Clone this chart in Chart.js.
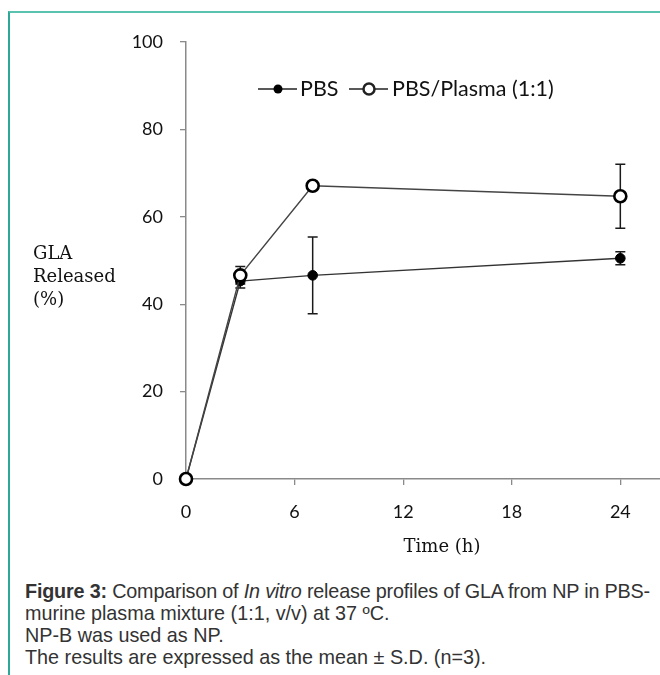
<!DOCTYPE html>
<html><head><meta charset="utf-8">
<script src="https://cdn.jsdelivr.net/npm/chart.js@4"></script>
<style>
html,body{margin:0;padding:0;background:#fff;width:660px;height:675px;overflow:hidden}
#frame{position:absolute;left:8px;top:11px;width:700px;height:700px;border-left:2px solid #2ea896;border-top:2px solid #5cc2b0;}
#wrap{position:absolute;left:0;top:0;width:660px;height:565px;overflow:hidden}
#cap{position:absolute;left:25px;top:580px;width:625px;font-family:"Liberation Sans",Arial,sans-serif;font-size:19.8px;line-height:22px;color:#333;}
#cap div{white-space:nowrap}
#cap #l1 span{display:inline-block;white-space:nowrap}
</style></head><body>
<div id="frame"></div>
<div id="wrap"><canvas id="c" width="670" height="565"></canvas></div>
<div id="cap">
<div id="l1"><span id="l1s"><b>Figure 3:</b> Comparison of <i>In vitro</i> release profiles of GLA from NP in PBS-</span></div>
<div>murine plasma mixture (1:1, v/v) at 37 ºC.</div>
<div>NP-B was used as NP.</div>
<div>The results are expressed as the mean ± S.D. (n=3).</div>
</div>
<script>
const times = [0, 3, 7, 24];
const pbsMean = [0, 45.3, 46.6, 50.5];
const pbsSD = [0, 1.6, 8.8, 1.5];
const plasmaMean = [0, 46.6, 67.1, 64.7];
const plasmaSD = [0, 2.0, 0.8, 7.3];
const xTicks = [0, 6, 12, 18, 24];
const yTicks = [0, 20, 40, 60, 80, 100];
const seriesNames = ['PBS', 'PBS/Plasma (1:1)'];
const yTitle = ['GLA', 'Released', '(%)'];
const xTitle = 'Time (h)';

// fit the first caption line to the full width (justified look)
(function () {
  const s = document.getElementById('l1s');
  const target = 625;
  const chars = s.textContent.length;
  const w = s.getBoundingClientRect().width;
  s.style.letterSpacing = ((target - w) / chars) + 'px';
})();

const tickFont = {family: 'Lato', size: 18};
const axisColor = '#8a8a8a';

const errorBars = {
  id: 'errorBars',
  beforeDatasetsDraw(chart) {
    const {ctx, scales: {x, y}} = chart;
    ctx.save();
    ctx.strokeStyle = '#1a1a1a';
    ctx.lineWidth = 1.5;
    [[pbsMean, pbsSD], [plasmaMean, plasmaSD]].forEach(([m, s]) => {
      times.forEach((t, i) => {
        if (!s[i]) return;
        const px = x.getPixelForValue(t);
        const top = y.getPixelForValue(m[i] + s[i]);
        const bot = y.getPixelForValue(m[i] - s[i]);
        ctx.beginPath();
        ctx.moveTo(px, top); ctx.lineTo(px, bot);
        ctx.moveTo(px - 5, top); ctx.lineTo(px + 5, top);
        ctx.moveTo(px - 5, bot); ctx.lineTo(px + 5, bot);
        ctx.stroke();
      });
    });
    ctx.restore();
  }
};

const labelsPlugin = {
  id: 'labelsPlugin',
  afterDraw(chart) {
    const ctx = chart.ctx;
    ctx.save();
    ctx.fillStyle = '#111';
    ctx.font = '18px "DejaVu Serif"';
    ctx.textAlign = 'left';
    ctx.textBaseline = 'alphabetic';
    yTitle.forEach((t, i) => ctx.fillText(t, 33, 259 + i * 23));
    ctx.textAlign = 'center';
    ctx.fillText(xTitle, 442, 552);
    const ly = 89;
    ctx.strokeStyle = '#222';
    ctx.lineWidth = 1.5;
    ctx.beginPath(); ctx.moveTo(258, ly); ctx.lineTo(297, ly); ctx.stroke();
    ctx.fillStyle = '#000';
    ctx.beginPath(); ctx.arc(278, ly, 4.5, 0, Math.PI * 2); ctx.fill();
    ctx.beginPath(); ctx.moveTo(349, ly); ctx.lineTo(388, ly); ctx.stroke();
    ctx.fillStyle = '#fff';
    ctx.lineWidth = 2.5;
    ctx.beginPath(); ctx.arc(369, ly, 5.5, 0, Math.PI * 2); ctx.fill(); ctx.stroke();
    ctx.fillStyle = '#111';
    ctx.font = '21.5px Lato';
    ctx.textAlign = 'left';
    ctx.textBaseline = 'middle';
    ctx.fillText(seriesNames[0], 300, ly);
    ctx.fillText(seriesNames[1], 392, ly);
    ctx.restore();
  }
};

new Chart(document.getElementById('c'), {
  type: 'line',
  data: {
    datasets: [
      {
        label: seriesNames[0],
        data: times.map((t, i) => ({x: t, y: pbsMean[i]})),
        borderColor: '#333',
        borderWidth: 1.4,
        pointRadius: 4.8,
        pointBackgroundColor: '#000',
        pointBorderColor: '#000',
        pointBorderWidth: 1,
        clip: false,
        order: 2
      },
      {
        label: seriesNames[1],
        data: times.map((t, i) => ({x: t, y: plasmaMean[i]})),
        borderColor: '#444',
        borderWidth: 1.4,
        pointRadius: 6,
        pointBackgroundColor: '#fff',
        pointBorderColor: '#000',
        pointBorderWidth: 2.6,
        clip: false,
        order: 1
      }
    ]
  },
  options: {
    responsive: false,
    animation: false,
    layout: {padding: {top: 42, right: 0, left: 0, bottom: 0}},
    plugins: {legend: {display: false}, tooltip: {enabled: false}},
    scales: {
      x: {
        type: 'linear',
        min: 0,
        max: 26.27,
        afterBuildTicks: s => { s.ticks = xTicks.map(v => ({value: v})); },
        afterFit: s => { s.height = 565 - 479; },
        grid: {drawOnChartArea: false, drawTicks: true, tickLength: 6, color: axisColor, lineWidth: 1.3},
        border: {display: true, color: axisColor, width: 1.5},
        ticks: {font: tickFont, color: '#111', padding: 16, maxRotation: 0}
      },
      y: {
        min: 0,
        max: 100,
        afterBuildTicks: s => { s.ticks = yTicks.map(v => ({value: v})); },
        afterFit: s => { s.width = 186; },
        grid: {drawOnChartArea: false, drawTicks: true, tickLength: 6, color: axisColor, lineWidth: 1.3},
        border: {display: true, color: axisColor, width: 1.5},
        ticks: {font: tickFont, color: '#111', padding: 17}
      }
    }
  },
  plugins: [errorBars, labelsPlugin]
});
</script>
</body></html>
